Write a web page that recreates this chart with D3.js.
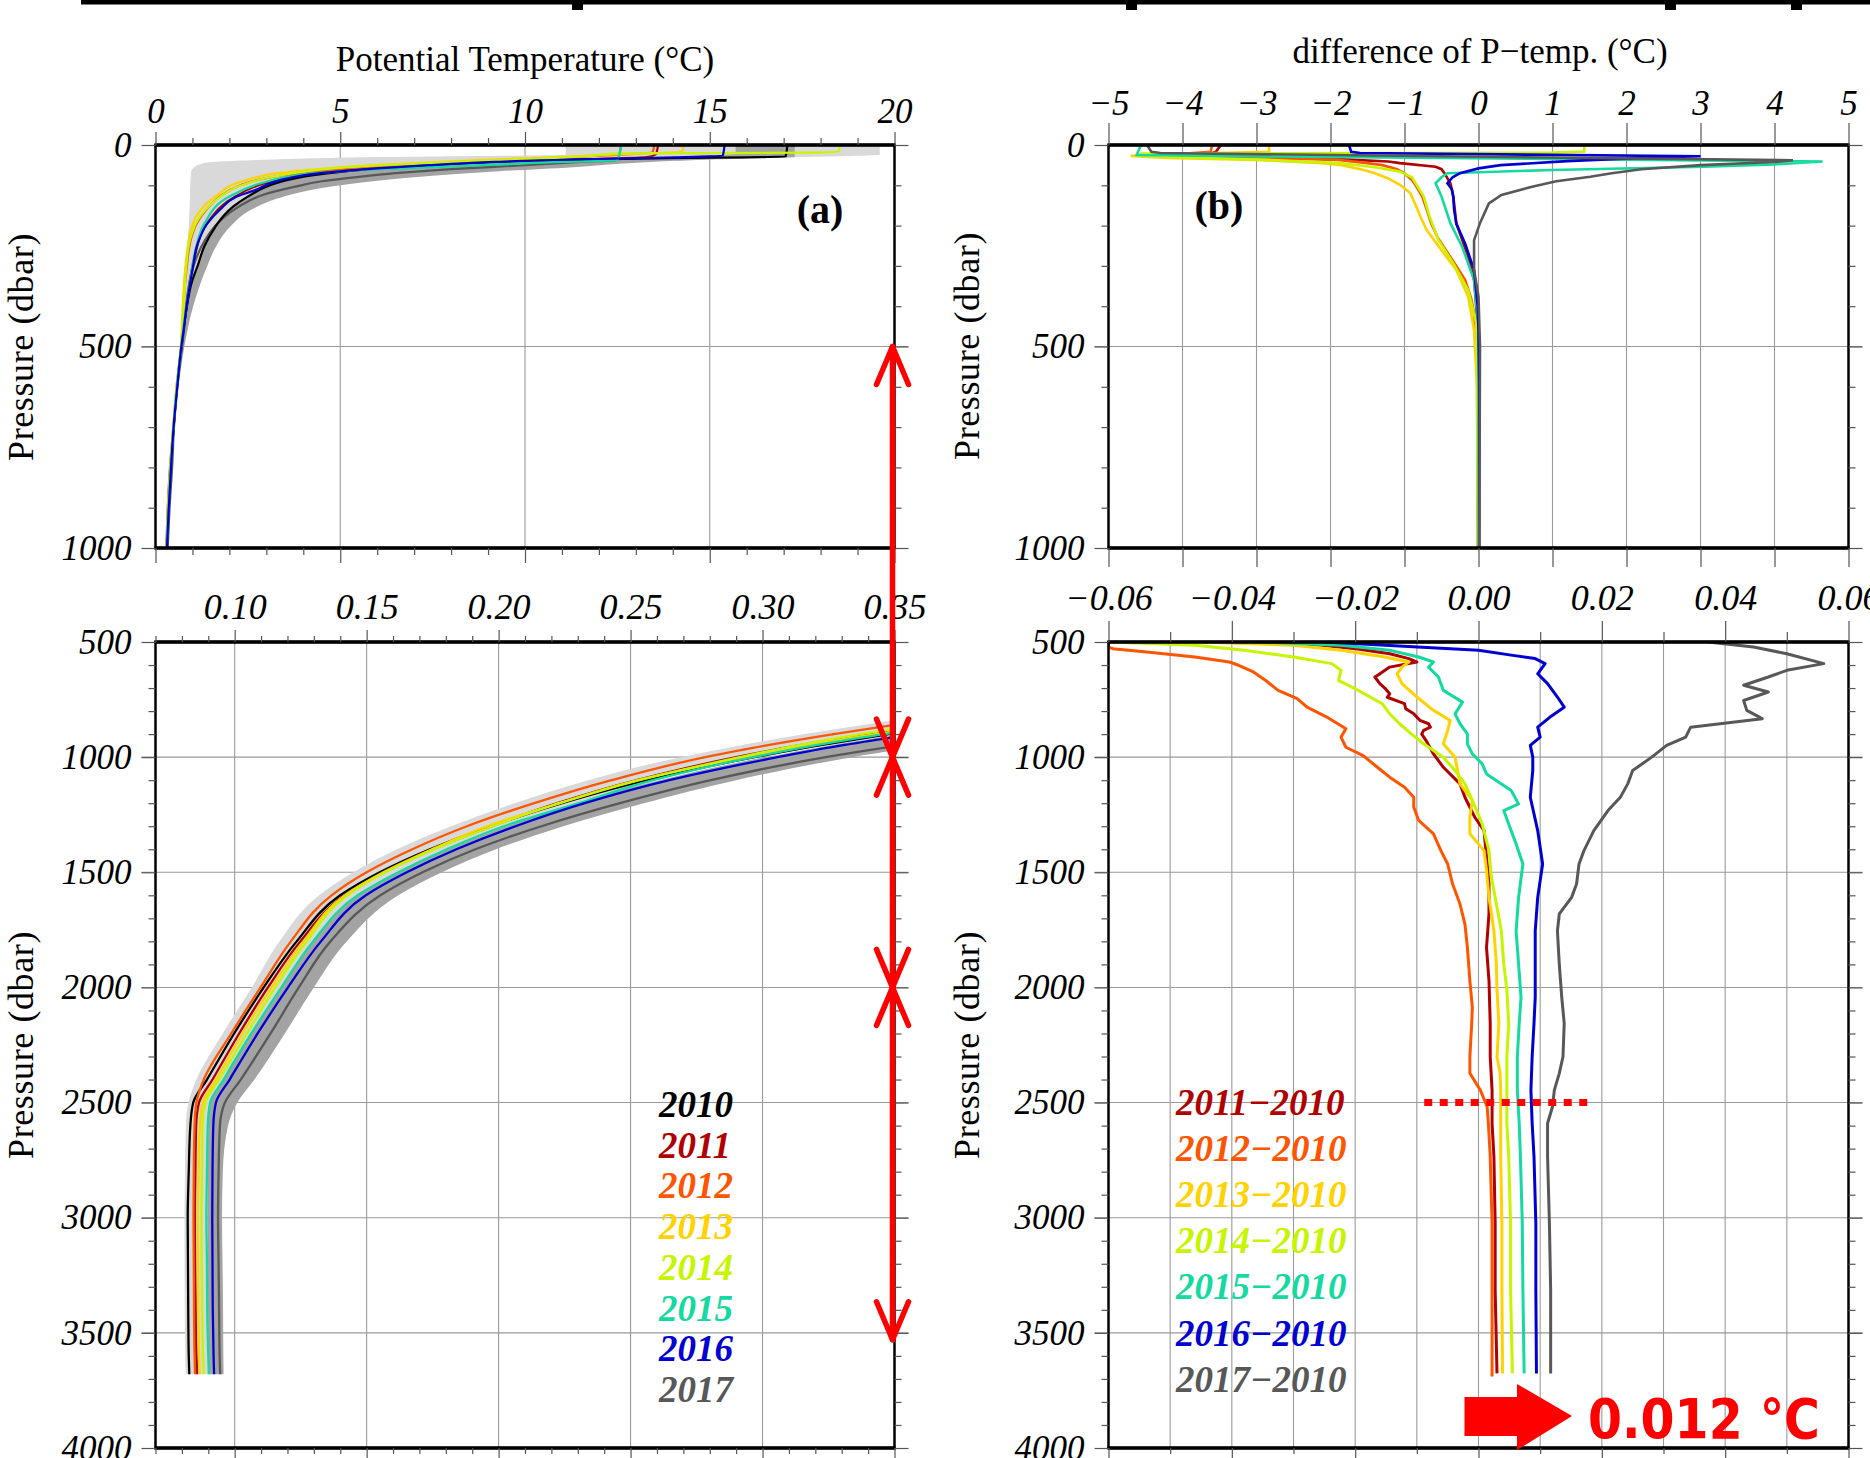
<!DOCTYPE html>
<html>
<head>
<meta charset="utf-8">
<script src="https://cdn.jsdelivr.net/npm/d3@7"></script>
<style>
  body { margin: 0; background: #fff; }
  svg { display: block; }
  text { font-family: "Liberation Serif", "Times New Roman", serif; }
</style>
</head>
<body>
<div id="chart"></div>
<script>

// ---------- data ----------
const years = ["2010", "2011", "2012", "2013", "2014", "2015", "2016", "2017"];
const yearColors = ["#000000", "#b00000", "#ff5500", "#ffd200", "#c6f500", "#14d9a0", "#0000d2", "#585858"];
const diffLabels = ["2011\u22122010", "2012\u22122010", "2013\u22122010", "2014\u22122010", "2015\u22122010", "2016\u22122010", "2017\u22122010"];

// (a) potential temperature, 0-1000 dbar : [pressure, temp]
const theta2010 = [[0,17.1],[29,17.05],[33,13.5],[38,10.2],[44,8.6],[52,7.0],[60,5.8],[70,4.7],[87,3.55],[100,3.1],[128,2.5],[153,2.1],[175,1.85],[203,1.62],[252,1.32],[300,1.14],[335,1.0],[418,0.82],[500,0.70],[600,0.58],[700,0.49],[800,0.41],[900,0.35],[1000,0.30]];
const theta2011 = [[0,13.6],[22,13.55],[30,13.3],[35,11.8],[41,9.3],[45,8.0],[54,6.3],[60,5.3],[70,4.24],[95,2.96],[128,2.16],[194,1.4],[277,1.06],[335,0.93],[450,0.76],[500,0.70],[600,0.58],[700,0.49],[800,0.40],[900,0.34],[1000,0.30]];
const theta2012 = [[0,13.5],[18,13.45],[24,12.6],[30,11.3],[37,9.6],[45,7.6],[50,6.6],[60,5.0],[70,3.9],[87,2.75],[100,2.3],[128,1.74],[160,1.38],[194,1.12],[230,0.97],[261,0.9],[300,0.85],[335,0.81],[418,0.75],[500,0.69],[600,0.57],[700,0.48],[800,0.39],[900,0.33],[1000,0.29]];
const theta2013 = [[0,14.3],[17,14.25],[22,12.8],[27,11.6],[32,10.4],[37,8.9],[45,7.0],[50,5.9],[62,4.1],[70,3.3],[83,2.6],[100,2.05],[120,1.73],[153,1.3],[180,1.08],[211,0.96],[261,0.86],[310,0.80],[376,0.75],[459,0.71],[500,0.69],[600,0.57],[700,0.48],[800,0.40],[900,0.34],[1000,0.30]];
const theta2014 = [[0,18.5],[16,18.5],[19,17.8],[21,12.6],[27,11.8],[33,10.6],[37,9.6],[45,7.4],[55,5.2],[66,4.04],[80,3.1],[104,2.2],[128,1.76],[178,1.2],[236,0.93],[294,0.84],[360,0.79],[442,0.74],[500,0.69],[600,0.57],[700,0.48],[800,0.40],[900,0.34],[1000,0.30]];
const theta2015 = [[0,12.6],[38,12.5],[42,11.0],[48,9.4],[54,7.8],[62,5.6],[70,4.3],[80,3.5],[95,2.85],[128,2.0],[194,1.33],[253,1.1],[335,0.94],[450,0.76],[500,0.70],[600,0.58],[700,0.49],[800,0.41],[900,0.35],[1000,0.30]];
const theta2016 = [[0,15.4],[27,15.35],[31,13.8],[36,11.2],[42,9.2],[50,7.4],[58,6.0],[70,4.45],[80,3.7],[95,3.1],[110,2.75],[130,2.15],[160,1.75],[195,1.4],[245,1.14],[310,1.0],[400,0.84],[460,0.76],[500,0.70],[600,0.59],[700,0.49],[800,0.42],[900,0.36],[1000,0.31]];
const theta2017 = [[0,12.6],[37,12.5],[42,11.5],[50,10.0],[60,8.0],[70,6.5],[79,5.5],[90,4.5],[104,3.75],[124,2.9],[145,2.4],[194,1.68],[236,1.34],[310,1.0],[376,0.88],[500,0.72],[600,0.59],[700,0.50],[800,0.45],[900,0.38],[1000,0.33]];
const thetaUpper = [theta2010, theta2011, theta2012, theta2013, theta2014, theta2015, theta2016, theta2017];

// (a) shaded ranges : [pressure, low, high]
const envUpperLight = [[0,11.1,19.6],[24,11.1,19.6],[30,6.0,17.5],[36,3.2,15.0],[45,1.3,12.0],[55,1.05,9.0],[65,0.97,6.5],[80,0.95,4.6],[100,0.94,3.4],[130,0.93,2.6],[160,0.92,2.2],[200,0.9,1.8],[250,0.86,1.5],[300,0.83,1.3],[400,0.77,1.0],[500,0.69,0.78],[700,0.47,0.52],[1000,0.28,0.32]];
const envUpperDark = [[0,15.7,17.3],[22,15.7,17.3],[30,13.5,17.3],[36,10.0,15.0],[45,8.0,12.8],[55,6.3,11.3],[65,5.0,9.3],[80,3.8,7.0],[100,3.0,5.0],[130,2.4,3.4],[160,2.0,2.6],[200,1.6,2.05],[250,1.3,1.65],[300,1.12,1.4],[400,0.85,1.02],[500,0.69,0.78],[600,0.58,0.62]];

// (b) differences from 2010, 0-1000 dbar : [pressure, dT]
const dUp2011 = [[0,-3.48],[17,-3.55],[20,-3.6],[25,-3.5],[30,-3.0],[35,-1.9],[41,-1.22],[45,-1.06],[54,-0.58],[60,-0.5],[70,-0.46],[95,-0.38],[128,-0.34],[194,-0.3],[277,-0.14],[335,-0.06],[450,-0.01],[600,0],[1000,0]];
const dUp2012 = [[0,-3.6],[17,-3.62],[22,-4.0],[27,-4.3],[32,-3.0],[37,-1.9],[45,-1.5],[50,-1.3],[60,-1.1],[70,-1.0],[87,-0.9],[100,-0.85],[128,-0.76],[160,-0.7],[194,-0.64],[230,-0.55],[261,-0.44],[300,-0.3],[335,-0.18],[380,-0.1],[418,-0.06],[542,-0.02],[1000,-0.01]];
const dUp2013 = [[0,-2.83],[17,-2.83],[22,-4.0],[27,-4.7],[32,-4.2],[37,-3.0],[45,-2.11],[50,-1.85],[62,-1.55],[70,-1.4],[83,-1.22],[100,-1.05],[120,-0.92],[153,-0.84],[180,-0.78],[211,-0.7],[261,-0.5],[310,-0.3],[376,-0.14],[459,-0.06],[600,-0.02],[1000,-0.01]];
const dUp2014 = [[0,1.43],[16,1.43],[19,1.0],[21,-4.56],[27,-4.6],[33,-3.6],[37,-2.83],[45,-1.87],[55,-1.4],[66,-1.06],[80,-0.9],[104,-0.82],[128,-0.74],[178,-0.66],[236,-0.54],[294,-0.34],[360,-0.14],[442,-0.03],[600,-0.01],[1000,0]];
const dUp2015 = [[0,-4.56],[25,-4.62],[41,4.65],[48,4.0],[54,3.04],[62,1.0],[70,-0.42],[80,-0.5],[95,-0.58],[128,-0.5],[194,-0.38],[253,-0.22],[335,-0.06],[450,0],[1000,0]];
const dUp2016 = [[0,-1.75],[17,-1.72],[20,-1.6],[28,3.0],[32,2.2],[40,1.2],[50,0.3],[58,0.0],[70,-0.25],[80,-0.35],[95,-0.42],[110,-0.36],[130,-0.34],[160,-0.33],[195,-0.3],[245,-0.18],[310,-0.06],[400,-0.01],[460,0.0],[600,0.01],[1000,0.01]];
const dUp2017 = [[0,-4.48],[17,-4.42],[20,-4.3],[38,4.25],[42,4.0],[50,3.0],[60,2.2],[70,1.8],[79,1.51],[90,1.05],[104,0.71],[124,0.31],[145,0.14],[194,0.02],[236,-0.06],[310,-0.06],[376,0],[500,0.02],[1000,0.01]];
const diffUpper = [dUp2011, dUp2012, dUp2013, dUp2014, dUp2015, dUp2016, dUp2017];

// (c) potential temperature, deep part : pressure levels + one value per level
const deepP    = [800, 850, 900, 950, 1000, 1100, 1200, 1300, 1400, 1500, 1600, 1800, 2000, 2200, 2400, 2500, 2600, 2800, 3000, 3200, 3400, 3600, 3680];
const deep2010 = [0.410,0.378,0.348,0.321,0.297,0.256,0.224,0.197,0.174,0.155,0.140,0.1235,0.111,0.0998,0.0895,0.0843,0.0832,0.0826,0.0822,0.0823,0.0824,0.0826,0.0828];
const deep2011 = [0.400,0.3697,0.3393,0.313,0.290,0.2524,0.2223,0.1974,0.1752,0.1565,0.1417,0.1249,0.1126,0.1017,0.0916,0.0865,0.0854,0.0851,0.0849,0.0850,0.0852,0.0855,0.0858];
const deep2012 = [0.385,0.356,0.327,0.301,0.2783,0.2428,0.2135,0.188,0.1673,0.150,0.1367,0.1213,0.1098,0.0987,0.0883,0.0855,0.0848,0.0845,0.0844,0.0845,0.0846,0.0848,0.0850];
const deep2013 = [0.4035,0.3733,0.3428,0.3155,0.2932,0.2529,0.2229,0.1956,0.1747,0.1563,0.1417,0.1261,0.114,0.1030,0.0930,0.0879,0.0868,0.0863,0.0860,0.0861,0.0862,0.0865,0.0867];
const deep2014 = [0.3954,0.365,0.3372,0.3124,0.2913,0.2533,0.2232,0.1977,0.1757,0.157,0.1427,0.1273,0.1154,0.1046,0.0941,0.0889,0.0878,0.0876,0.0874,0.0875,0.0877,0.0880,0.0883];
const deep2015 = [0.4065,0.3749,0.3462,0.3193,0.2965,0.2585,0.2304,0.202,0.1804,0.162,0.1466,0.1297,0.1177,0.1063,0.0958,0.0907,0.0898,0.0895,0.0893,0.0895,0.0896,0.0900,0.0902];
const deep2016 = [0.4222,0.3886,0.3578,0.3294,0.3058,0.2647,0.2326,0.2064,0.184,0.1652,0.1497,0.1327,0.1202,0.1087,0.0981,0.0929,0.0919,0.0916,0.0915,0.0916,0.0917,0.0920,0.0922];
const deep2017 = [0.455,0.418,0.3818,0.3515,0.324,0.2804,0.246,0.2162,0.1912,0.1712,0.1552,0.1363,0.1243,0.1136,0.1023,0.0963,0.0944,0.0939,0.0937,0.0939,0.0941,0.0943,0.0945];
const thetaDeep = [deep2010, deep2011, deep2012, deep2013, deep2014, deep2015, deep2016, deep2017];

// (c) shaded ranges : [pressure, low, high]
const envDeepLight = [[800,0.372,0.41],[850,0.344,0.38],[900,0.316,0.35],[950,0.291,0.322],[1000,0.269,0.298],[1100,0.234,0.26],[1200,0.206,0.231],[1300,0.182,0.203],[1400,0.1615,0.181],[1500,0.145,0.163],[1600,0.132,0.147],[1800,0.117,0.130],[2000,0.1065,0.118],[2200,0.0955,0.1065],[2400,0.0855,0.096],[2500,0.0825,0.091],[2600,0.0815,0.090],[2800,0.0812,0.0895],[3000,0.0810,0.0893],[3200,0.0810,0.0895],[3400,0.0811,0.0896],[3600,0.0813,0.090],[3680,0.0815,0.0902]];
const envDeepDark = [[800,0.418,0.468],[850,0.384,0.430],[900,0.353,0.393],[950,0.325,0.362],[1000,0.301,0.334],[1100,0.261,0.290],[1200,0.229,0.255],[1300,0.203,0.2245],[1400,0.181,0.199],[1500,0.162,0.1785],[1600,0.147,0.162],[1800,0.130,0.1425],[2000,0.118,0.130],[2200,0.1065,0.119],[2400,0.096,0.1075],[2500,0.091,0.101],[2600,0.090,0.0975],[2800,0.0898,0.0955],[3000,0.0897,0.0952],[3200,0.0898,0.0954],[3400,0.0899,0.0956],[3600,0.090,0.0957],[3680,0.0902,0.0958]];

// (d) differences from 2010, 500-4000 dbar : [pressure, dT]
const dDeep2011 = [[500,-0.034],[514,-0.0254],[529,-0.0199],[551,-0.0144],[572,-0.0113],[587,-0.010],[609,-0.0144],[645,-0.0164],[652,-0.0168],[681,-0.016],[700,-0.0152],[725,-0.0144],[740,-0.0148],[768,-0.012],[790,-0.0118],[812,-0.0105],[840,-0.0095],[855,-0.0081],[870,-0.0078],[884,-0.0089],[900,-0.0092],[928,-0.0085],[986,-0.0073],[1044,-0.0057],[1116,-0.003],[1174,-0.0022],[1261,-0.0006],[1319,0.0009],[1435,0.0013],[1551,0.0017],[1681,0.0017],[1826,0.0013],[1971,0.0017],[2156,0.0019],[2301,0.0019],[2446,0.0022],[2590,0.0022],[2735,0.0025],[3025,0.0027],[3314,0.0027],[3676,0.0030]];
const dDeep2012 = [[500,-0.060],[522,-0.060],[529,-0.0593],[543,-0.0538],[565,-0.046],[587,-0.0404],[601,-0.0389],[630,-0.0365],[667,-0.0345],[710,-0.0325],[746,-0.0294],[783,-0.0278],[826,-0.0246],[877,-0.0215],[913,-0.0223],[957,-0.0215],[993,-0.0187],[1044,-0.0164],[1087,-0.0144],[1131,-0.012],[1174,-0.0105],[1217,-0.0105],[1275,-0.0097],[1333,-0.0073],[1406,-0.0061],[1464,-0.005],[1551,-0.0042],[1638,-0.003],[1725,-0.0022],[1826,-0.0018],[1971,-0.0014],[2087,-0.001],[2156,-0.0011],[2301,-0.0014],[2373,-0.0014],[2446,0.0003],[2518,0.0014],[2590,0.0016],[2735,0.0019],[3025,0.0022],[3314,0.0022],[3690,0.0022]];
const dDeep2013 = [[500,-0.045],[514,-0.030],[536,-0.0223],[565,-0.0152],[587,-0.0113],[609,-0.0124],[638,-0.0132],[681,-0.0124],[739,-0.010],[797,-0.0073],[841,-0.0046],[884,-0.005],[942,-0.0057],[1000,-0.0038],[1058,-0.0034],[1116,-0.003],[1188,-0.001],[1261,-0.0014],[1333,-0.0014],[1406,0.0009],[1493,0.0013],[1609,0.0017],[1754,0.0025],[1899,0.0029],[2012,0.003],[2156,0.0033],[2301,0.003],[2373,0.0035],[2446,0.0036],[2590,0.0036],[2735,0.0036],[3025,0.0038],[3314,0.0038],[3676,0.0039]];
const dDeep2014 = [[500,-0.060],[514,-0.0459],[536,-0.038],[565,-0.030],[594,-0.0238],[623,-0.0223],[667,-0.0227],[710,-0.0195],[768,-0.0156],[812,-0.0144],[855,-0.0128],[899,-0.0109],[942,-0.0089],[1000,-0.0057],[1058,-0.0038],[1116,-0.0022],[1188,-0.001],[1290,0.0006],[1406,0.0017],[1522,0.0021],[1638,0.0029],[1754,0.0037],[1899,0.0041],[2012,0.0046],[2156,0.0049],[2301,0.0046],[2446,0.0046],[2590,0.0046],[2735,0.0049],[3025,0.0052],[3314,0.0052],[3676,0.0055]];
const dDeep2015 = [[500,-0.0365],[514,-0.0223],[536,-0.0144],[565,-0.0097],[587,-0.0073],[609,-0.0081],[652,-0.0065],[710,-0.0057],[761,-0.0026],[812,-0.0038],[855,-0.003],[899,-0.0018],[942,-0.0018],[986,-0.001],[1029,0.0006],[1073,0.0013],[1145,0.0053],[1203,0.0065],[1232,0.0041],[1290,0.0049],[1377,0.0061],[1464,0.0072],[1609,0.0065],[1754,0.0061],[1899,0.0065],[2043,0.0069],[2156,0.0066],[2301,0.0063],[2446,0.0063],[2590,0.0066],[2735,0.0068],[3025,0.0071],[3314,0.0072],[3676,0.0074]];
const dDeep2016 = [[500,-0.025],[536,0.0],[557,0.0053],[572,0.0092],[594,0.0108],[638,0.0096],[681,0.0112],[739,0.0128],[783,0.0139],[826,0.0116],[870,0.0096],[913,0.010],[949,0.0084],[1000,0.0088],[1058,0.0088],[1174,0.0084],[1319,0.0096],[1464,0.0104],[1609,0.0096],[1754,0.0092],[1899,0.0092],[2043,0.0092],[2156,0.009],[2301,0.0087],[2446,0.0085],[2590,0.0087],[2735,0.009],[3025,0.0093],[3314,0.0093],[3676,0.0094]];
const dDeep2017 = [[500,0.0372],[522,0.0446],[551,0.050],[594,0.056],[623,0.050],[652,0.047],[688,0.043],[717,0.047],[754,0.043],[797,0.0435],[833,0.046],[870,0.0344],[913,0.0336],[949,0.0305],[1000,0.0281],[1058,0.025],[1116,0.0242],[1174,0.023],[1232,0.021],[1319,0.0187],[1406,0.0171],[1464,0.0163],[1551,0.0159],[1609,0.0151],[1681,0.0131],[1754,0.0128],[1899,0.0131],[2043,0.0135],[2156,0.0139],[2301,0.0137],[2373,0.0131],[2446,0.0123],[2518,0.012],[2590,0.0112],[2735,0.0112],[3025,0.0115],[3314,0.0117],[3676,0.0117]];
const diffDeep = [dDeep2011, dDeep2012, dDeep2013, dDeep2014, dDeep2015, dDeep2016, dDeep2017];

// ---------- svg ----------
const svg = d3.select("#chart").append("svg")
    .attr("width", 1870)
    .attr("height", 1458);

const L1 = 155.5, R1 = 894.5, L2 = 1108.5, R2 = 1848.5;
const T1 = 145, B1 = 548, T2 = 642, B2 = 1448;

const xA = d3.scaleLinear().domain([0, 20]).range([L1, R1]);
const yA = d3.scaleLinear().domain([0, 1000]).range([T1, B1]);
const xB = d3.scaleLinear().domain([-5, 5]).range([L2, R2]);
const yB = d3.scaleLinear().domain([0, 1000]).range([T1, B1]);
const xC = d3.scaleLinear().domain([0.07, 0.35]).range([L1, R1]);
const yC = d3.scaleLinear().domain([500, 4000]).range([T2, B2]);
const xD = d3.scaleLinear().domain([-0.06, 0.06]).range([L2, R2]);
const yD = d3.scaleLinear().domain([500, 4000]).range([T2, B2]);

// thick bar at the very top (bottom of a cut-off title)
svg.append("rect").attr("x", 81).attr("y", 0).attr("width", 1789).attr("height", 4.5).attr("fill", "#000");
[572, 1126, 1665, 1791].forEach(function (nx) {
    svg.append("rect").attr("x", nx).attr("y", 0).attr("width", 11).attr("height", 10).attr("fill", "#000");
});

function grid(x, y, xs, ys) {
    const g = svg.append("g").attr("stroke", "#9a9a9a").attr("stroke-width", 1.1);
    xs.forEach(function (v) {
        g.append("line").attr("x1", x(v)).attr("x2", x(v)).attr("y1", y.range()[0]).attr("y2", y.range()[1]);
    });
    ys.forEach(function (v) {
        g.append("line").attr("x1", x.range()[0] - 14).attr("x2", x.range()[1] + 14).attr("y1", y(v)).attr("y2", y(v));
    });
}

function mk(gen, tx, ty, fs) {
    const a = svg.append("g").attr("transform", "translate(" + tx + "," + ty + ")").call(gen);
    a.attr("font-family", null).attr("font-size", null);
    a.select(".domain").remove();
    a.selectAll(".tick line").attr("stroke", "#555").attr("stroke-width", 1.2);
    a.selectAll(".tick text")
        .attr("fill", "#000")
        .style("font-family", "'Liberation Serif', 'Times New Roman', serif")
        .style("font-style", "italic")
        .style("font-size", (fs || 35) + "px");
    return a;
}

const noLabel = function () { return ""; };

function axes(x, y, o) {
    const l = x.range()[0], r = x.range()[1], t = y.range()[0], b = y.range()[1];
    mk(d3.axisTop(x).tickValues(o.xMajor).tickSize(o.topMajor).tickPadding(o.topPad).tickFormat(o.fmtX), 0, t, o.xFont);
    mk(d3.axisBottom(x).tickValues(o.xMajor).tickSize(o.botMajor).tickFormat(noLabel), 0, b);
    if (o.xMinor) {
        mk(d3.axisTop(x).tickValues(o.xMinor).tickSize(o.topMinor).tickFormat(noLabel), 0, t);
        mk(d3.axisBottom(x).tickValues(o.xMinor).tickSize(o.botMinor).tickFormat(noLabel), 0, b);
    }
    mk(d3.axisLeft(y).tickValues(o.yMajor).tickSize(14).tickPadding(10).tickFormat(d3.format("d")), l, 0, 35);
    mk(d3.axisLeft(y).tickValues(o.yMinor).tickSize(7).tickFormat(noLabel), l, 0);
    mk(d3.axisRight(y).tickValues(o.yMajor).tickSize(14).tickFormat(noLabel), r, 0);
    mk(d3.axisRight(y).tickValues(o.yMinor).tickSize(7).tickFormat(noLabel), r, 0);
}

function frame(x, y) {
    const l = x.range()[0], r = x.range()[1], t = y.range()[0], b = y.range()[1];
    svg.append("rect").attr("x", l).attr("y", t).attr("width", r - l).attr("height", b - t)
        .attr("fill", "none").attr("stroke", "#000").attr("stroke-width", 2.5);
    [t, b].forEach(function (yy) {
        svg.append("line").attr("x1", l - 1).attr("x2", r + 1).attr("y1", yy).attr("y2", yy)
            .attr("stroke", "#000").attr("stroke-width", 3.5);
    });
}

let clipId = 0;
function plotArea(x, y) {
    const id = "clip" + (clipId++);
    svg.append("clipPath").attr("id", id).append("rect")
        .attr("x", x.range()[0]).attr("y", y.range()[0])
        .attr("width", x.range()[1] - x.range()[0]).attr("height", y.range()[1] - y.range()[0]);
    return svg.append("g").attr("clip-path", "url(#" + id + ")");
}

const hundreds = function (a, b) { return d3.range(a, b + 1, 100).filter(function (v) { return v % 500 !== 0; }); };

// ---------- panel (a) ----------
grid(xA, yA, [5, 10, 15], [500]);
const pa = plotArea(xA, yA);
const areaA = d3.area().curve(d3.curveMonotoneY)
    .y(function (d) { return yA(d[0]); }).x0(function (d) { return xA(d[1]); }).x1(function (d) { return xA(d[2]); });
pa.append("path").datum(envUpperLight).attr("d", areaA).attr("fill", "#d9d9d9");
pa.append("path").datum(envUpperDark).attr("d", areaA).attr("fill", "#a3a3a3");
const lineA = d3.line().curve(d3.curveMonotoneY)
    .x(function (d) { return xA(d[1]); }).y(function (d) { return yA(d[0]); });
[7, 0, 1, 2, 3, 4, 5, 6].forEach(function (i) {
    pa.append("path").datum(thetaUpper[i]).attr("d", lineA)
        .attr("fill", "none").attr("stroke", yearColors[i]).attr("stroke-width", 2.2);
});
frame(xA, yA);
axes(xA, yA, {
    xMajor: [0, 5, 10, 15, 20], xMinor: d3.range(0, 21).filter(function (v) { return v % 5 !== 0; }),
    topMajor: 13, topMinor: 7, topPad: 9, botMajor: 15, botMinor: 7, fmtX: d3.format("d"), xFont: 35,
    yMajor: [0, 500, 1000], yMinor: hundreds(100, 900)
});

// ---------- panel (b) ----------
grid(xB, yB, d3.range(-4, 5), [500]);
const pb = plotArea(xB, yB);
const lineB = d3.line().x(function (d) { return xB(d[1]); }).y(function (d) { return yB(d[0]); });
diffUpper.forEach(function (s, i) {
    pb.append("path").datum(s).attr("d", lineB)
        .attr("fill", "none").attr("stroke", yearColors[i + 1]).attr("stroke-width", 2.6);
});
frame(xB, yB);
axes(xB, yB, {
    xMajor: d3.range(-5, 6), xMinor: null,
    topMajor: 22, topPad: 8, botMajor: 19, fmtX: d3.format("d"), xFont: 35,
    yMajor: [0, 500, 1000], yMinor: hundreds(100, 900)
});

// ---------- panel (c) ----------
grid(xC, yC, [0.10, 0.15, 0.20, 0.25, 0.30], [1000, 1500, 2000, 2500, 3000, 3500]);
const pc = plotArea(xC, yC);
const areaC = d3.area().curve(d3.curveMonotoneY)
    .y(function (d) { return yC(d[0]); }).x0(function (d) { return xC(d[1]); }).x1(function (d) { return xC(d[2]); });
pc.append("path").datum(envDeepLight).attr("d", areaC).attr("fill", "#d9d9d9");
pc.append("path").datum(envDeepDark).attr("d", areaC).attr("fill", "#a3a3a3");
const lineC = d3.line().curve(d3.curveMonotoneY)
    .x(function (d) { return xC(d[1]); }).y(function (d) { return yC(d[0]); });
[7, 0, 1, 3, 4, 5, 6, 2].forEach(function (i) {
    pc.append("path").datum(d3.zip(deepP, thetaDeep[i])).attr("d", lineC)
        .attr("fill", "none").attr("stroke", yearColors[i]).attr("stroke-width", 2.3);
});
frame(xC, yC);
axes(xC, yC, {
    xMajor: [0.10, 0.15, 0.20, 0.25, 0.30, 0.35],
    xMinor: d3.range(7, 36).filter(function (v) { return v % 5 !== 0; }).map(function (v) { return v / 100; }),
    topMajor: 12, topMinor: 6, topPad: 11, botMajor: 10, botMinor: 6, fmtX: d3.format(".2f"), xFont: 36,
    yMajor: d3.range(500, 4001, 500), yMinor: hundreds(600, 3900)
});

// ---------- panel (d) ----------
grid(xD, yD, d3.range(-5, 6).map(function (v) { return v / 100; }), [1000, 1500, 2000, 2500, 3000, 3500]);
const pd = plotArea(xD, yD);
const lineD = d3.line().x(function (d) { return xD(d[1]); }).y(function (d) { return yD(d[0]); });
diffDeep.forEach(function (s, i) {
    pd.append("path").datum(s).attr("d", lineD)
        .attr("fill", "none").attr("stroke", yearColors[i + 1]).attr("stroke-width", 3)
        .attr("stroke-linejoin", "round");
});
frame(xD, yD);
axes(xD, yD, {
    xMajor: d3.range(-6, 7, 2).map(function (v) { return v / 100; }),
    xMinor: d3.range(-5, 6, 2).map(function (v) { return v / 100; }),
    topMajor: 21, topMinor: 10, topPad: 11, botMajor: 10, botMinor: 6, fmtX: d3.format(".2f"), xFont: 36,
    yMajor: d3.range(500, 4001, 500), yMinor: hundreds(600, 3900)
});

// ---------- titles ----------
svg.append("text").attr("x", 525).attr("y", 71).attr("text-anchor", "middle")
    .style("font-size", "35px").text("Potential Temperature (\u00b0C)");
svg.append("text").attr("x", 1480).attr("y", 63).attr("text-anchor", "middle")
    .style("font-size", "35px").text("difference of P\u2212temp. (\u00b0C)");

[[33, 347], [33, 1045], [979, 346], [979, 1045]].forEach(function (p) {
    svg.append("text").attr("transform", "translate(" + p[0] + "," + p[1] + ") rotate(-90)")
        .attr("text-anchor", "middle").style("font-size", "36px").style("letter-spacing", "0.6px")
        .text("Pressure (dbar)");
});

svg.append("text").attr("x", 820).attr("y", 223).attr("text-anchor", "middle")
    .style("font-size", "40px").style("font-weight", "bold").text("(a)");
svg.append("text").attr("x", 1219).attr("y", 219).attr("text-anchor", "middle")
    .style("font-size", "40px").style("font-weight", "bold").text("(b)");

// ---------- legends ----------
years.forEach(function (yr, i) {
    svg.append("text").attr("x", 659).attr("y", 1117 + i * 40.7)
        .style("font-size", "37px").style("font-weight", "bold").style("font-style", "italic")
        .attr("fill", yearColors[i]).text(yr);
});
diffLabels.forEach(function (lb, i) {
    svg.append("text").attr("x", 1176).attr("y", 1115 + i * 46.1)
        .style("font-size", "37px").style("font-weight", "bold").style("font-style", "italic")
        .attr("fill", yearColors[i + 1]).text(lb);
});

// ---------- red annotations ----------
const red = "#ff0000";
const arrowX = R1 - 2;
const ann = svg.append("g").attr("stroke", red).attr("fill", "none")
    .attr("stroke-width", 5.5).attr("stroke-linecap", "round").attr("stroke-linejoin", "round");
ann.append("line").attr("x1", arrowX).attr("x2", arrowX).attr("y1", yA(500)).attr("y2", yC(3530));
// [tip y, direction]  -1 = pointing up, 1 = pointing down
[[yA(500), -1], [yC(1000), 1], [yC(1000), -1], [yC(2000), 1], [yC(2000), -1], [yC(3530), 1]].forEach(function (h) {
    ann.append("path").attr("d",
        "M" + (arrowX - 16) + "," + (h[0] - h[1] * 38) + " L" + arrowX + "," + h[0] + " L" + (arrowX + 16) + "," + (h[0] - h[1] * 38));
});

svg.append("line")
    .attr("x1", xD(-0.0088)).attr("x2", xD(0.0185)).attr("y1", yD(2500)).attr("y2", yD(2500))
    .attr("stroke", red).attr("stroke-width", 7).attr("stroke-dasharray", "8,7.5");

svg.append("polygon")
    .attr("points", [[1464.5, 1397], [1517, 1397], [1517, 1384], [1572, 1416], [1517, 1450], [1517, 1436], [1464.5, 1436]].join(" "))
    .attr("fill", red);
svg.append("text").attr("x", 1588).attr("y", 1438)
    .attr("textLength", 232).attr("lengthAdjust", "spacingAndGlyphs")
    .style("font-family", "'DejaVu Sans Condensed', 'DejaVu Sans', sans-serif")
    .style("font-size", "56px").style("font-weight", "bold").attr("fill", red)
    .text("0.012 \u00b0C");

</script>
</body>
</html>
